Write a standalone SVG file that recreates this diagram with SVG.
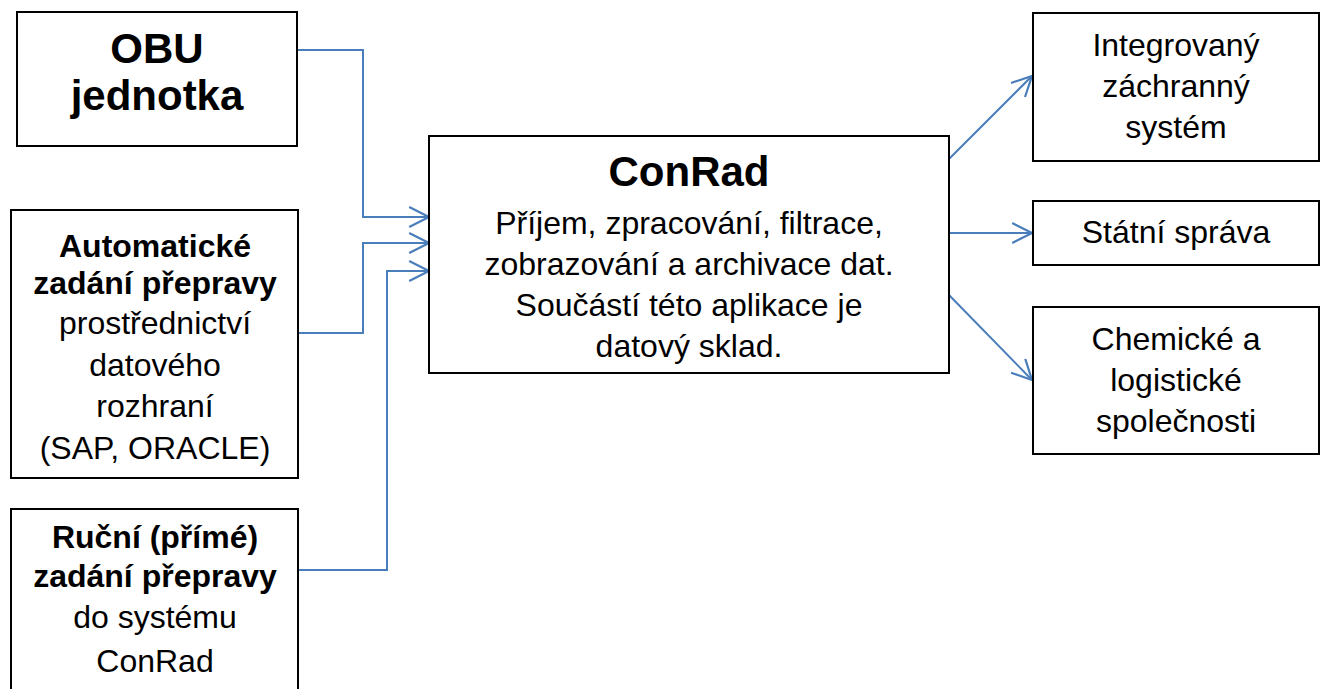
<svg xmlns="http://www.w3.org/2000/svg" width="1324" height="689" viewBox="0 0 1324 689">
<style>
.box{fill:#fff;stroke:#000;stroke-width:2}
.t{font-family:"Liberation Sans",Arial,sans-serif;font-size:32px;fill:#000;text-anchor:middle}
.b{font-weight:bold}
.h{font-family:"Liberation Sans",Arial,sans-serif;font-size:42px;font-weight:bold;fill:#000;text-anchor:middle}
.c{fill:none;stroke:#4A7EBB;stroke-width:2;marker-end:url(#arr)}
</style>
<defs>
<marker id="arr" markerUnits="userSpaceOnUse" markerWidth="22" markerHeight="22" viewBox="0 0 20 20" refX="19" refY="10" orient="auto">
<path d="M1,1 L19,10 L1,19" fill="none" stroke="#4A7EBB" stroke-width="2"/>
</marker>
</defs>
<rect width="1324" height="689" fill="#fff"/>
<g id="connectors">
<path class="c" d="M297,50 H363 V217 H429"/>
<path class="c" d="M298,333 H363 V243 H429"/>
<path class="c" d="M298,570 H387 V271 H429"/>
<path class="c" d="M949,159 L1032,76"/>
<path class="c" d="M949,233 H1032"/>
<path class="c" d="M949,295 L1032,380"/>
</g>
<g id="obu">
<rect class="box" x="17" y="12" width="280" height="134"/>
<text class="h" x="157" y="63">OBU</text>
<text class="h" x="157" y="110">jednotka</text>
</g>
<g id="auto">
<rect class="box" x="11" y="210" width="287" height="268"/>
<text class="t b" x="155" y="257">Automatické</text>
<text class="t b" x="155" y="294">zadání přepravy</text>
<text class="t" x="155" y="334">prostřednictví</text>
<text class="t" x="155" y="376">datového</text>
<text class="t" x="155" y="417">rozhraní</text>
<text class="t" x="155" y="459">(SAP, ORACLE)</text>
</g>
<g id="rucni">
<rect class="box" x="11" y="509" width="287" height="200"/>
<text class="t b" x="155" y="548">Ruční (přímé)</text>
<text class="t b" x="155" y="587">zadání přepravy</text>
<text class="t" x="155" y="628">do systému</text>
<text class="t" x="155" y="672">ConRad</text>
</g>
<g id="conrad">
<rect class="box" x="429" y="136" width="520" height="237"/>
<text class="h" x="689" y="186">ConRad</text>
<text class="t" x="689" y="234">Příjem, zpracování, filtrace,</text>
<text class="t" x="689" y="275">zobrazování a archivace dat.</text>
<text class="t" x="689" y="316">Součástí této aplikace je</text>
<text class="t" x="689" y="357">datový sklad.</text>
</g>
<g id="izs">
<rect class="box" x="1033" y="13" width="286" height="148"/>
<text class="t" x="1176" y="56">Integrovaný</text>
<text class="t" x="1176" y="97">záchranný</text>
<text class="t" x="1176" y="138">systém</text>
</g>
<g id="statni">
<rect class="box" x="1033" y="201" width="286" height="64"/>
<text class="t" x="1176" y="243">Státní správa</text>
</g>
<g id="chem">
<rect class="box" x="1033" y="307" width="286" height="147"/>
<text class="t" x="1176" y="350">Chemické a</text>
<text class="t" x="1176" y="391">logistické</text>
<text class="t" x="1176" y="432">společnosti</text>
</g>
</svg>
